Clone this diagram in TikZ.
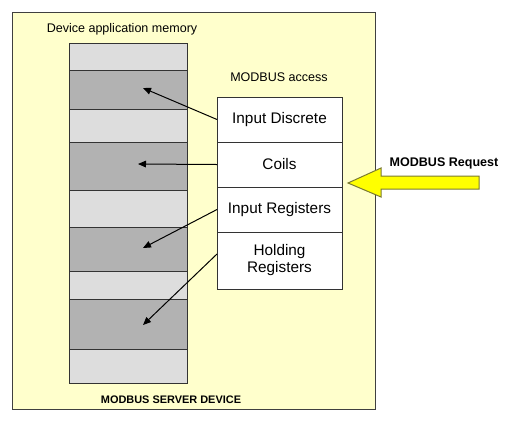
\documentclass[tikz,border=0pt]{standalone}
\usepackage{fontspec}
\setmainfont{Liberation Sans}
\usetikzlibrary{arrows.meta}
\definecolor{bgyellow}{HTML}{FFFFCC}
\definecolor{lightband}{HTML}{DDDDDD}
\definecolor{darkband}{HTML}{B2B2B2}
\definecolor{arrowyellow}{HTML}{FFFF00}
\definecolor{arrowedge}{HTML}{7A7A30}
\tikzset{
  band/.style={draw=black!80, line width=0.75pt, inner sep=0pt, outer sep=0pt, minimum width=88.5pt},
  lband/.style={band, fill=lightband},
  dband/.style={band, fill=darkband},
  regbox/.style={draw=black!80, fill=white, line width=0.75pt, inner sep=0pt, outer sep=0pt, minimum width=93.75pt, align=center, font=\fontsize{11.5}{12.75}\selectfont},
  lbl/.style={inner sep=0pt, font=\fontsize{9.4}{11}\selectfont},
  blbl/.style={inner sep=0pt, font=\fontsize{9.4}{11}\selectfont\bfseries},
  link/.style={draw=black, line width=0.75pt, -{Triangle[length=6pt,width=5pt]}},
}
\begin{document}
\begin{tikzpicture}[x=0.75pt,y=-0.75pt]
\useasboundingbox (0,0) rectangle (516,429);
\node[draw=black!75, fill=bgyellow, line width=0.75pt, inner sep=0pt, outer sep=0pt, minimum width=272.25pt, minimum height=297.75pt] (device) at (193.5,210.5) {};
\node[lbl] (memlbl) at (122,29) {Device application memory};
\node[blbl, font=\fontsize{8.2}{10}\selectfont\bfseries] (devlbl) at (171,400) {MODBUS SERVER DEVICE};
\node[lbl] (acclbl) at (279,77) {MODBUS access};
\node[blbl] (reqlbl) at (444,163) {MODBUS Request};
% memory bands
\node[lband, minimum height=20.25pt] (m1) at (128,56.5) {};
\node[dband, minimum height=29.25pt] (m2) at (128,89.5) {};
\node[lband, minimum height=24.75pt] (m3) at (128,125.5) {};
\node[dband, minimum height=36pt]    (m4) at (128,166) {};
\node[lband, minimum height=27.75pt] (m5) at (128,208.5) {};
\node[dband, minimum height=33pt]    (m6) at (128,249) {};
\node[lband, minimum height=21pt]    (m7) at (128,285) {};
\node[dband, minimum height=37.5pt]  (m8) at (128,324) {};
\node[lband, minimum height=25.5pt]  (m9) at (128,366) {};
% access boxes
\node[regbox, minimum height=33.75pt] (id) at (279.5,119.5) {Input Discrete};
\node[regbox, minimum height=33.75pt] (co) at (279.5,164.5) {Coils};
\node[regbox, minimum height=33.75pt] (ir) at (279.5,209.5) {Input Registers};
\node[regbox, minimum height=42.75pt] (hr) at (279.5,260.5) {Holding\\Registers};
% arrow targets
\coordinate (t1) at (143,88);
\coordinate (t2) at (138,164);
\coordinate (t3) at (143,248);
\coordinate (t4) at (143,325);
\coordinate (s4) at (217,254);
\draw[link] (id.west) -- (t1);
\draw[link] (co.west) -- (t2);
\draw[link] (ir.west) -- (t3);
\draw[link] (s4) -- (t4);
% request arrow
\coordinate (reqtip) at (348,183);
\draw[fill=arrowyellow, draw=arrowedge, line width=0.75pt, line join=miter]
  (reqtip) -- (381,168) -- (381,176) -- (479,176) -- (479,189) -- (381,189) -- (381,197) -- cycle;
\end{tikzpicture}
\end{document}
